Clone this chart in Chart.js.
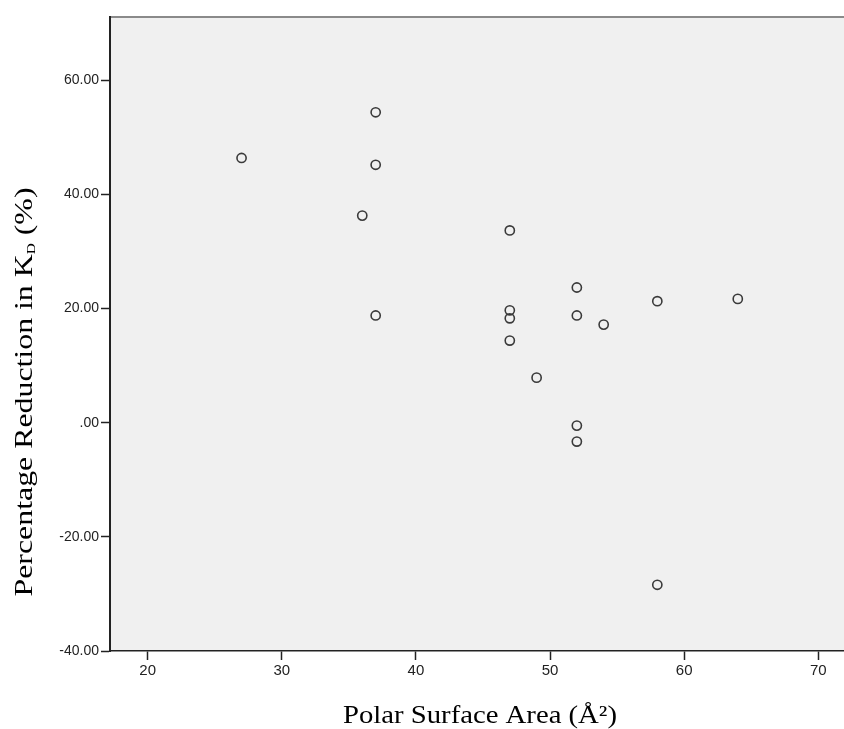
<!DOCTYPE html>
<html>
<head>
<meta charset="utf-8">
<script src="https://cdn.jsdelivr.net/npm/chart.js@4/dist/chart.umd.min.js"></script>
<style>
  html, body { margin: 0; padding: 0; background: #ffffff; overflow: hidden; }
  #wrap { width: 844px; height: 729px; }
</style>
</head>
<body>
<div id="wrap"><canvas id="c" width="844" height="729"></canvas></div>
<script>
// Polar surface area (Å²) of each compound
const polarSurfaceArea = [27, 37, 37, 36, 37, 47, 47, 47, 47, 49, 52, 52, 52, 52, 54, 58, 58, 64];
// Percentage reduction in KD (%)
const reductionKD = [46.4, 54.4, 45.2, 36.3, 18.8, 33.7, 19.7, 18.3, 14.4, 7.9, 23.7, 18.8, -0.5, -3.3, 17.2, 21.3, -28.4, 21.7];

const xTickValues = [20, 30, 40, 50, 60, 70];
const yTickValues = [-40, -20, 0, 20, 40, 60];
const yTickLabels = ['-40.00', '-20.00', '.00', '20.00', '40.00', '60.00'];

const xTitle = 'Polar Surface Area (Å²)';
const yTitleMain = 'Percentage Reduction in K';
const yTitleSub = 'D';
const yTitleTail = ' (%)';

const points = polarSurfaceArea.map((x, i) => ({ x: x, y: reductionKD[i] }));

const AXIS = '#222222';
const SERIF = '"Liberation Serif", "Times New Roman", serif';
const TITLE_FONT = '25px ' + SERIF;
const SUB_FONT = '12px ' + SERIF;

// Draw a run of text stretched along its own direction to a given length
function stretchedText(ctx, text, x, y, length) {
  const w = ctx.measureText(text).width;
  ctx.save();
  ctx.translate(x, y);
  ctx.scale(length / w, 1);
  ctx.fillText(text, 0, 0);
  ctx.restore();
}

// Plot background, top frame line and the serif axis titles
const framePlugin = {
  id: 'frame',
  beforeDraw(chart) {
    const { ctx, chartArea: a } = chart;
    ctx.save();
    ctx.fillStyle = '#f0f0f0';
    ctx.fillRect(a.left, a.top, chart.width - a.left, a.bottom - a.top);
    ctx.strokeStyle = '#8a8a8a';
    ctx.lineWidth = 2;
    ctx.beginPath();
    ctx.moveTo(a.left, a.top);
    ctx.lineTo(chart.width, a.top);
    ctx.stroke();
    ctx.restore();
  },
  afterDraw(chart) {
    const { ctx } = chart;
    ctx.save();
    ctx.fillStyle = '#000000';
    ctx.textBaseline = 'alphabetic';
    ctx.textAlign = 'left';

    // x title
    ctx.font = TITLE_FONT;
    const xLen = 274;
    stretchedText(ctx, xTitle, 480 - xLen / 2, 723, xLen);

    // y title, rotated, with subscript D
    ctx.font = TITLE_FONT;
    const w1 = ctx.measureText(yTitleMain).width;
    const w3 = ctx.measureText(yTitleTail).width;
    ctx.font = SUB_FONT;
    const w2 = ctx.measureText(yTitleSub).width;
    const total = w1 + w2 + w3;
    const yLen = 409;
    const k = yLen / total;
    ctx.translate(32, 392);
    ctx.rotate(-Math.PI / 2);
    let x0 = -yLen / 2;
    ctx.font = TITLE_FONT;
    stretchedText(ctx, yTitleMain, x0, 0, w1 * k);
    x0 += w1 * k;
    ctx.font = SUB_FONT;
    stretchedText(ctx, yTitleSub, x0, 3, w2 * k);
    x0 += w2 * k;
    ctx.font = TITLE_FONT;
    stretchedText(ctx, yTitleTail, x0, 0, w3 * k);
    ctx.restore();
  }
};

new Chart(document.getElementById('c'), {
  type: 'scatter',
  data: {
    datasets: [{
      data: points,
      pointStyle: 'circle',
      pointRadius: 4.6,
      pointBorderWidth: 1.6,
      pointBorderColor: '#3a3a3a',
      pointBackgroundColor: 'rgba(0,0,0,0)',
      pointHoverRadius: 4.6
    }]
  },
  options: {
    responsive: false,
    animation: false,
    events: [],
    layout: { autoPadding: false, padding: { top: 17, right: 0, bottom: 0, left: 0 } },
    plugins: { legend: { display: false }, tooltip: { enabled: false }, title: { display: false } },
    scales: {
      x: {
        type: 'linear',
        min: 17.19,
        max: 71.92,
        afterBuildTicks(scale) { scale.ticks = xTickValues.map(v => ({ value: v })); },
        afterFit(scale) { scale.height = 78; scale.paddingRight = 0; scale.paddingLeft = 0; },
        grid: { drawOnChartArea: false, drawTicks: true, tickLength: 9, tickWidth: 1.5, color: AXIS },
        border: { display: true, color: AXIS, width: 1.5 },
        ticks: {
          color: '#222222',
          padding: 2,
          maxRotation: 0,
          font: { family: '"Liberation Sans", Arial, sans-serif', size: 15 },
          callback: v => String(v)
        }
      },
      y: {
        type: 'linear',
        min: -40,
        max: 71.1,
        afterBuildTicks(scale) { scale.ticks = yTickValues.map(v => ({ value: v })); },
        afterFit(scale) { scale.width = 110; scale.paddingTop = 0; scale.paddingBottom = 0; },
        grid: { drawOnChartArea: false, drawTicks: true, tickLength: 9, tickWidth: 1.5, color: AXIS },
        border: { display: true, color: AXIS, width: 2 },
        ticks: {
          color: '#222222',
          padding: 2,
          font: { family: '"Liberation Sans", Arial, sans-serif', size: 14 },
          callback: v => yTickLabels[yTickValues.indexOf(v)]
        }
      }
    }
  },
  plugins: [framePlugin]
});
</script>
</body>
</html>
